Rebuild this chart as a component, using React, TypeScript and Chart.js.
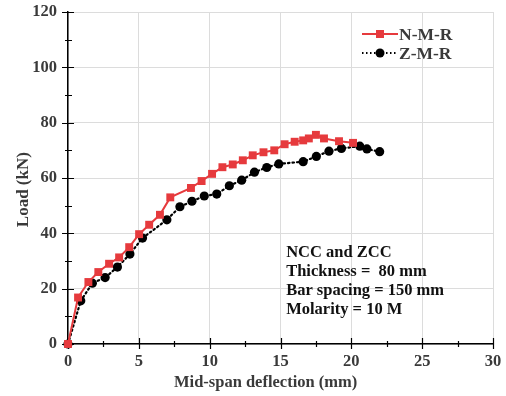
import React, { useEffect, useRef } from "react";
import { Chart, registerables } from "chart.js";

Chart.register(...registerables);

// ---- data ----
const nmrDeflection = [0, 0.71, 1.44, 2.14, 2.9, 3.61, 4.32, 5.02, 5.73, 6.49, 7.22, 8.68, 9.43, 10.17, 10.9, 11.63, 12.34, 13.04, 13.8, 14.56, 15.29, 16.0, 16.6, 17.0, 17.5, 18.07, 19.13, 20.12];
const nmrLoad = [0, 16.8, 22.4, 26.0, 29.0, 31.3, 35.0, 39.7, 43.1, 46.7, 53.0, 56.4, 58.9, 61.5, 63.9, 64.9, 66.4, 68.2, 69.3, 70.0, 72.2, 73.1, 73.6, 74.3, 75.6, 74.3, 73.3, 72.7];

const zmrDeflection = [0, 0.9, 1.72, 2.62, 3.49, 4.37, 5.26, 6.98, 7.9, 8.75, 9.62, 10.5, 11.39, 12.26, 13.16, 14.03, 14.88, 16.6, 17.53, 18.42, 19.3, 20.6, 21.1, 22.0];
const zmrLoad = [0, 15.6, 22.0, 24.0, 27.8, 32.5, 38.3, 44.9, 49.6, 51.6, 53.5, 54.2, 57.2, 59.2, 62.1, 63.8, 65.1, 65.9, 67.8, 69.7, 70.7, 71.5, 70.5, 69.5];

const seriesNames = ["N-M-R", "Z-M-R"];
const xTickValues = [0, 5, 10, 15, 20, 25, 30];
const yTickValues = [0, 20, 40, 60, 80, 100, 120];
const xMinorTicks = [2.5, 7.5, 12.5, 17.5, 22.5, 27.5];
const yMinorTicks = [10, 30, 50, 70, 90, 110];
const xTitle = "Mid-span deflection (mm)";
const yTitle = "Load (kN)";
const noteLines = ["NCC and ZCC", "Thickness =  80 mm", "Bar spacing = 150 mm", "Molarity = 10 M"];
const noteAnchor = { x: 15.4, y: 33.1 };

const RED = "#e63a3d";
const BLACK = "#000000";
const LABEL = "#3a3a3a";
const FONT = "'Liberation Serif', 'Times New Roman', serif";

const toPoints = (xs: number[], ys: number[]) => xs.map((x, i) => ({ x, y: ys[i] }));

const overlayPlugin = {
  id: "overlay",
  beforeDatasetsDraw(chart: any) {
    const ctx = chart.ctx;
    const xs = chart.scales.x;
    const ys = chart.scales.y;
    const { left, bottom } = chart.chartArea;
    ctx.save();
    ctx.strokeStyle = "#000";
    ctx.lineWidth = 1.2;
    ctx.beginPath();
    xTickValues.forEach((v) => {
      const px = Math.round(xs.getPixelForValue(v)) + 0.5;
      ctx.moveTo(px, bottom - 6);
      ctx.lineTo(px, bottom + 5);
    });
    xMinorTicks.forEach((v) => {
      const px = Math.round(xs.getPixelForValue(v)) + 0.5;
      ctx.moveTo(px, bottom - 3);
      ctx.lineTo(px, bottom + 3);
    });
    yTickValues.forEach((v) => {
      const py = Math.round(ys.getPixelForValue(v)) + 0.5;
      ctx.moveTo(left - 6, py);
      ctx.lineTo(left + 6, py);
    });
    yMinorTicks.forEach((v) => {
      const py = Math.round(ys.getPixelForValue(v)) + 0.5;
      ctx.moveTo(left - 3, py);
      ctx.lineTo(left + 4, py);
    });
    ctx.stroke();
    ctx.restore();
  },
  afterDraw(chart: any) {
    const ctx = chart.ctx;
    const xs = chart.scales.x;
    const ys = chart.scales.y;
    const { left, right, top, bottom } = chart.chartArea;
    ctx.save();

    // axis titles
    ctx.fillStyle = LABEL;
    ctx.font = `bold 16.5px ${FONT}`;
    ctx.textAlign = "center";
    ctx.textBaseline = "middle";
    ctx.fillText(xTitle, left + (right - left) * 0.465, bottom + 39);
    ctx.save();
    ctx.translate(24, top + (bottom - top) * 0.535);
    ctx.rotate(-Math.PI / 2);
    ctx.font = `bold 17px ${FONT}`;
    ctx.fillText(yTitle, 0, 0);
    ctx.restore();

    // legend
    const lx = right - 131;
    const ly1 = top + 22;
    const ly2 = top + 41;
    ctx.lineCap = "butt";
    ctx.strokeStyle = RED;
    ctx.lineWidth = 2;
    ctx.beginPath();
    ctx.moveTo(lx, ly1);
    ctx.lineTo(lx + 36, ly1);
    ctx.stroke();
    ctx.fillStyle = RED;
    ctx.fillRect(lx + 14, ly1 - 4, 8, 8);

    ctx.strokeStyle = BLACK;
    ctx.setLineDash([1.5, 2.5]);
    ctx.lineWidth = 2;
    ctx.beginPath();
    ctx.moveTo(lx, ly2);
    ctx.lineTo(lx + 36, ly2);
    ctx.stroke();
    ctx.setLineDash([]);
    ctx.fillStyle = BLACK;
    ctx.beginPath();
    ctx.arc(lx + 18, ly2, 4.5, 0, Math.PI * 2);
    ctx.fill();

    ctx.fillStyle = LABEL;
    ctx.textAlign = "left";
    ctx.font = `bold 17.5px ${FONT}`;
    ctx.fillText(seriesNames[0], lx + 37, ly1 + 1);
    ctx.fillText(seriesNames[1], lx + 37, ly2 + 1);

    // note
    ctx.fillStyle = "#111";
    ctx.font = `bold 16.5px ${FONT}`;
    const nx = xs.getPixelForValue(noteAnchor.x);
    const ny = ys.getPixelForValue(noteAnchor.y);
    noteLines.forEach((line, i) => {
      ctx.fillText(line, nx, ny + i * 19.2);
    });
    ctx.restore();
  },
};

export default function App() {
  const canvasRef = useRef<HTMLCanvasElement | null>(null);

  useEffect(() => {
    document.body.style.margin = "0";
    const canvas = canvasRef.current;
    if (!canvas) return;
    const chart = new Chart(canvas, {
      type: "line",
      data: {
        datasets: [
          {
            label: seriesNames[0],
            data: toPoints(nmrDeflection, nmrLoad),
            borderColor: RED,
            backgroundColor: RED,
            borderWidth: 2,
            pointStyle: "rect",
            pointRadius: 5.6,
            pointBorderWidth: 0,
            pointBackgroundColor: RED,
            tension: 0,
            fill: false,
            clip: false,
          },
          {
            label: seriesNames[1],
            data: toPoints(zmrDeflection, zmrLoad),
            borderColor: BLACK,
            backgroundColor: BLACK,
            borderWidth: 2.2,
            borderDash: [1.5, 3],
            borderCapStyle: "round",
            pointStyle: "circle",
            pointRadius: 4.6,
            pointBorderWidth: 0,
            pointBackgroundColor: BLACK,
            tension: 0,
            fill: false,
            clip: false,
          },
        ],
      },
      options: {
        animation: false,
        responsive: false,
        maintainAspectRatio: false,
        layout: { padding: { top: 12, right: 13, left: 0, bottom: 0 } },
        plugins: {
          legend: { display: false },
          tooltip: { enabled: false },
        },
        scales: {
          x: {
            type: "linear",
            min: 0,
            max: 30,
            afterFit: (s: any) => {
              s.height = 52;
              s.paddingLeft = 0;
              s.paddingRight = 0;
            },
            ticks: {
              stepSize: 5,
              padding: 8,
              color: LABEL,
              font: { family: FONT, size: 16.5, weight: "bold" },
            },
            grid: { color: "#dcdcdc", lineWidth: 1, drawTicks: false },
            border: { display: true, color: "#000", width: 1.5 },
          },
          y: {
            type: "linear",
            min: 0,
            max: 120,
            afterFit: (s: any) => {
              s.width = 68;
              s.paddingTop = 0;
              s.paddingBottom = 0;
            },
            ticks: {
              stepSize: 20,
              padding: 11,
              color: LABEL,
              font: { family: FONT, size: 16.5, weight: "bold" },
            },
            grid: { color: "#dcdcdc", lineWidth: 1, drawTicks: false },
            border: { display: true, color: "#000", width: 1.5 },
          },
        },
      },
      plugins: [overlayPlugin],
    });
    return () => chart.destroy();
  }, []);

  return (
    <div style={{ width: 506, height: 396, background: "#fff" }}>
      <canvas ref={canvasRef} width={506} height={396} style={{ display: "block" }} />
    </div>
  );
}
